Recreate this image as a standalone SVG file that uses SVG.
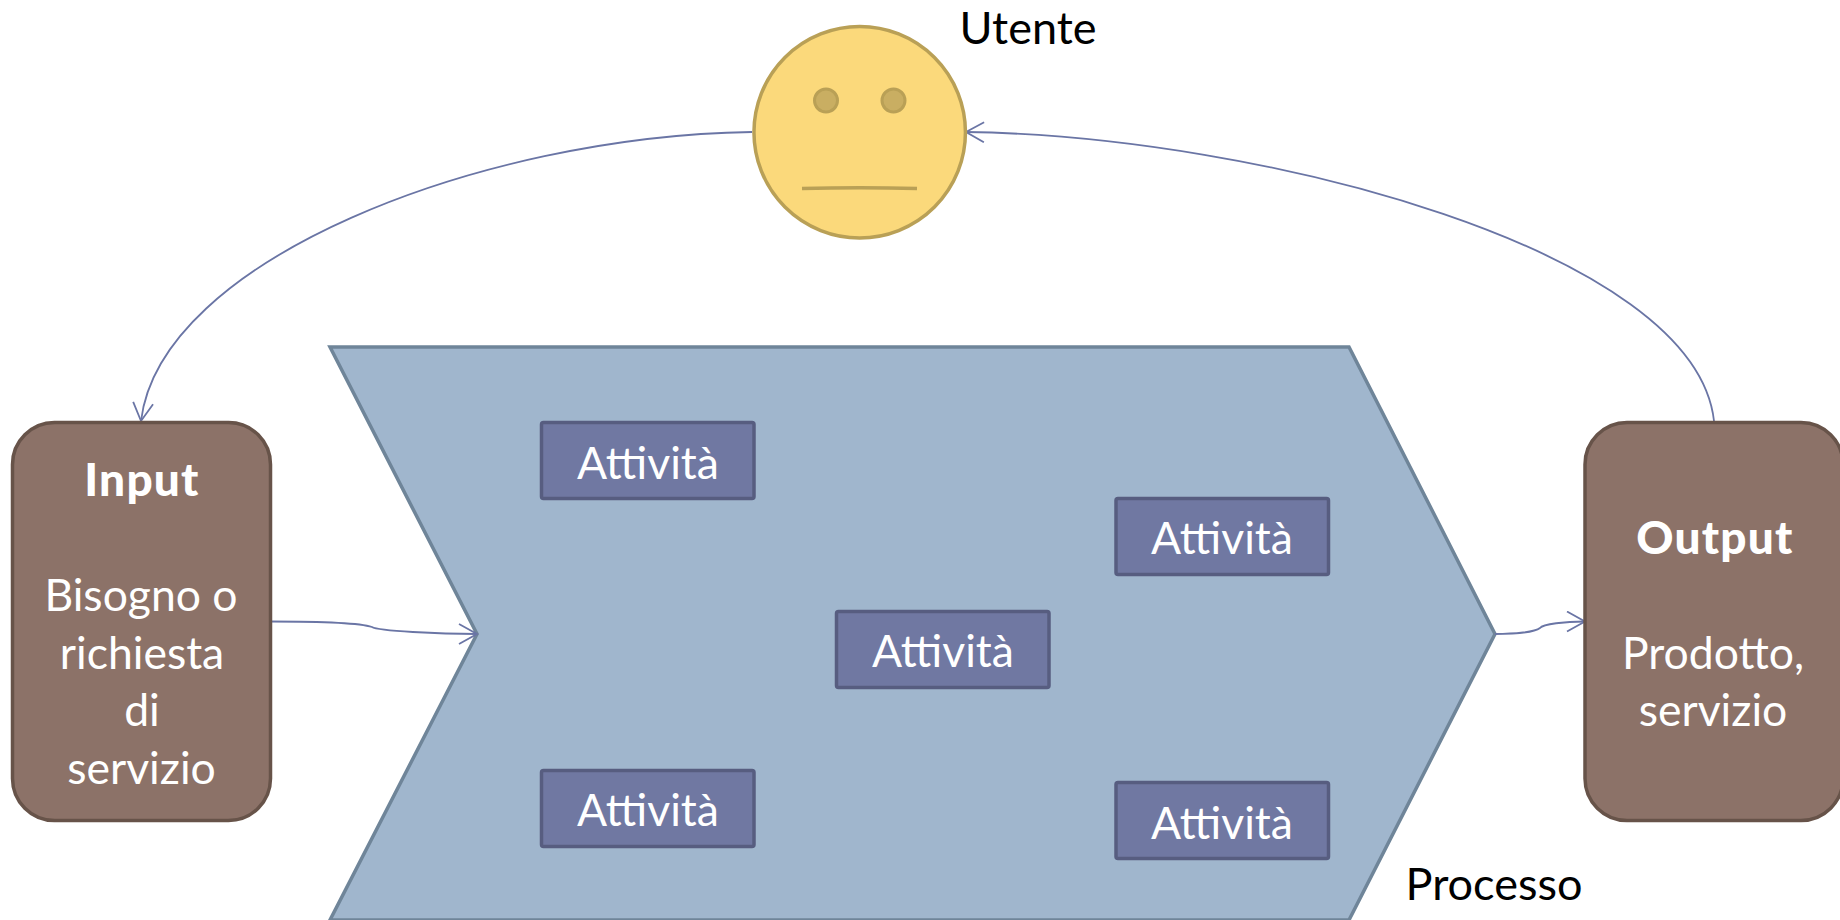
<svg xmlns="http://www.w3.org/2000/svg" width="1840" height="920" viewBox="0 0 1840 920">
<style>
text{font-family:"Lato","Open Sans","Liberation Sans",sans-serif;text-anchor:middle}
.w{fill:#fff;font-size:44.5px}
.b{fill:#fff;font-size:46px;font-weight:900;letter-spacing:1.2px}
.k{fill:#000;font-size:45px}
.t{fill:#fff;font-size:44.5px}
.a{fill:#7078a2;stroke:#575d80;stroke-width:3.5}
.io{fill:#8c7268;stroke:#675349;stroke-width:3.5}
.c{fill:none;stroke:#6a75a5;stroke-width:1.8}
</style>
<defs>
<marker id="arr" markerUnits="userSpaceOnUse" markerWidth="24" markerHeight="24" refX="19" refY="11" orient="auto"><path d="M1 1L19 11L1 21" fill="none" stroke="#6a75a5" stroke-width="1.8"/></marker>
</defs>
<g id="processo">
<path d="M330 347H1349L1495 634L1349 920H330L477 634Z" fill="#a0b6cd" stroke="#6f8599" stroke-width="3.5"/>
</g>
<g id="connectors">
<path class="c" d="M752 132C480 136 160 260 141 421" marker-end="url(#arr)"/>
<path class="c" d="M1714 421C1695 250 1260 136 966 132" marker-end="url(#arr)"/>
<path class="c" d="M270 621.500C310 621.500 360 623 372 627C378 631 440 634 477 634" marker-end="url(#arr)"/>
<path class="c" d="M1495 634C1515 634 1535 632 1540 628C1543 624 1565 621.500 1585 621.500" marker-end="url(#arr)"/>
</g>
<g id="utente">
<circle cx="859.700" cy="132.200" r="105.750" fill="#fbd97b" stroke="#b9a056" stroke-width="3.500"/>
<circle cx="826" cy="100.500" r="11.500" fill="#c9ae62" stroke="#b9a056" stroke-width="3"/>
<circle cx="893.500" cy="100.500" r="11.500" fill="#c9ae62" stroke="#b9a056" stroke-width="3"/>
<path d="M802 188.500Q860 187 917 188.500" fill="none" stroke="#b9a056" stroke-width="3.500"/>
<text class="k" x="1028" y="44">Utente</text>
</g>
<g id="input">
<rect class="io" x="12.500" y="422.500" width="258" height="398" rx="42"/>
<text class="b" x="142" y="496">Input</text>
<text class="w" x="141" y="611">Bisogno o</text>
<text class="w" x="142" y="669">richiesta</text>
<text class="w" x="142" y="726">di</text>
<text class="w" x="141.500" y="784">servizio</text>
</g>
<g id="output">
<rect class="io" x="1585" y="422.500" width="258" height="398" rx="42"/>
<text class="b" x="1715" y="554">Output</text>
<text class="w" x="1713" y="669">Prodotto,</text>
<text class="w" x="1713" y="726">servizio</text>
</g>
<g id="attivita1"><rect class="a" x="541.500" y="422.500" width="212.500" height="76" rx="2"/><text class="t" x="648" y="479">Attività</text></g>
<g id="attivita2"><rect class="a" x="1116" y="498.500" width="212.500" height="76" rx="2"/><text class="t" x="1222" y="554">Attività</text></g>
<g id="attivita3"><rect class="a" x="836.500" y="611.500" width="212.500" height="76" rx="2"/><text class="t" x="943" y="667">Attività</text></g>
<g id="attivita4"><rect class="a" x="541.500" y="770.500" width="212.500" height="76" rx="2"/><text class="t" x="648" y="826">Attività</text></g>
<g id="attivita5"><rect class="a" x="1116" y="782.500" width="212.500" height="76" rx="2"/><text class="t" x="1222" y="839">Attività</text></g>
<text class="k" x="1494" y="900">Processo</text>
</svg>
